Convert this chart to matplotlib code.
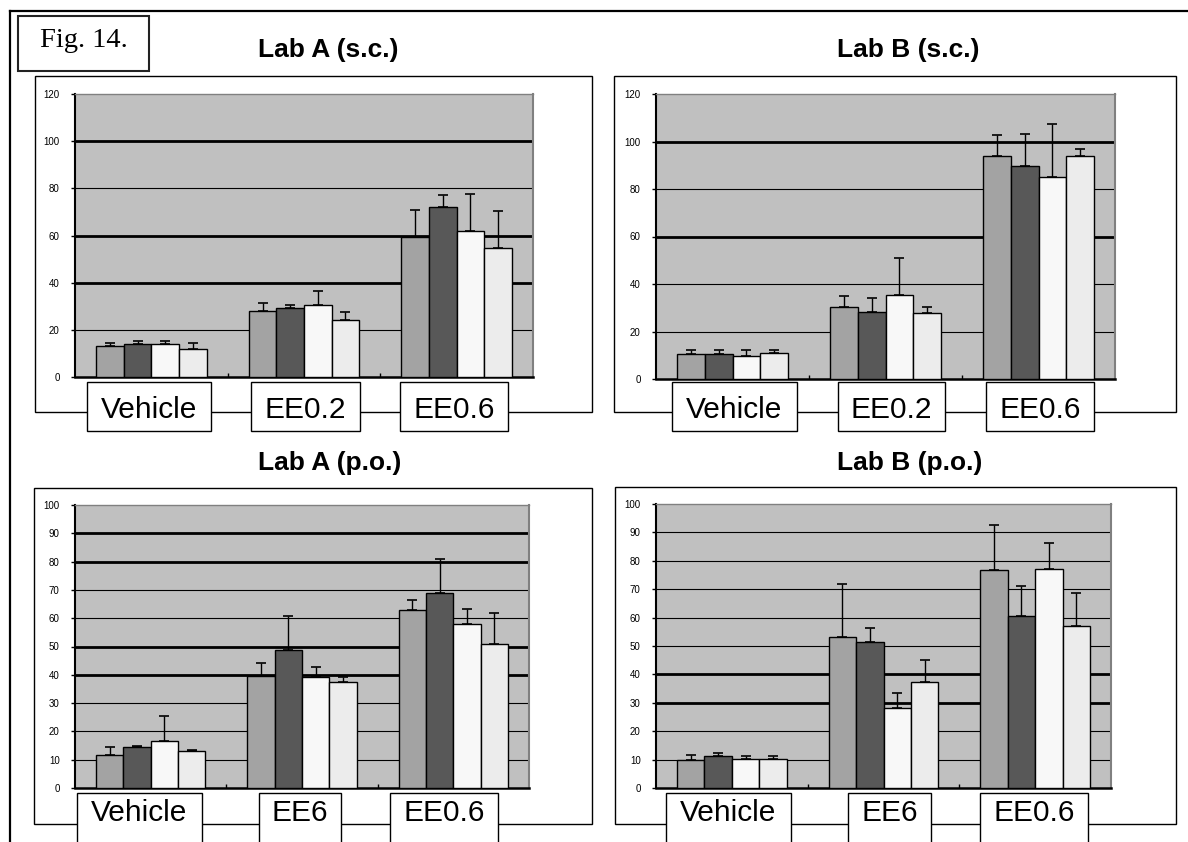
import matplotlib
matplotlib.use("Agg")
import matplotlib.pyplot as plt
from matplotlib.patches import Rectangle
from matplotlib.lines import Line2D
import numpy as np

W, H = 1188, 842
fig = plt.figure(figsize=(W / 100, H / 100), dpi=100)

# ---------------- data ----------------
categories_sc = ["Vehicle", "EE0.2", "EE0.6"]
categories_po = ["Vehicle", "EE6", "EE0.6"]

# one row per series (4 series), one value per category
lab_a_sc_mean = [[13.0, 28.0, 59.5], [14.0, 29.1, 72.1], [14.0, 30.4, 61.9], [11.9, 24.3, 54.7]]
lab_a_sc_sd = [[1.4, 3.4, 11.5], [1.1, 1.3, 4.9], [1.1, 5.9, 15.8], [2.5, 3.3, 15.7]]

lab_b_sc_mean = [[10.4, 30.2, 93.9], [10.4, 28.2, 89.8], [9.7, 35.3, 84.9], [10.8, 27.7, 93.9]]
lab_b_sc_sd = [[1.7, 4.6, 8.8], [1.7, 5.8, 13.3], [2.4, 15.6, 22.4], [1.3, 2.5, 2.9]]

lab_a_po_mean = [[11.6, 39.4, 62.8], [14.5, 48.7, 68.8], [16.7, 39.2, 57.9], [13.1, 37.5, 50.9]]
lab_a_po_sd = [[2.8, 4.6, 3.8], [0.2, 12.2, 12.0], [8.6, 3.6, 5.2], [0.2, 1.8, 10.9]]

lab_b_po_mean = [[9.8, 53.0, 76.6], [11.3, 51.3, 60.6], [10.1, 28.3, 77.1], [10.1, 37.4, 57.2]]
lab_b_po_sd = [[1.7, 19.0, 16.0], [1.2, 4.9, 10.4], [1.0, 5.0, 9.2], [1.0, 7.6, 11.3]]

series_colors = ["#a3a3a3", "#585858", "#f8f8f8", "#ececec"]
plot_bg = "#c0c0c0"

# ---------------- layout (pixel boxes) ----------------
panels = [
    dict(title="Lab A (s.c.)", cats=categories_sc, mean=lab_a_sc_mean, sd=lab_a_sc_sd,
         ymax=120, step=20, thick={40, 60, 100},
         frame=(35, 76, 592, 412), plot=(75, 94, 533, 377), tpos=(328, 57),
         boxes=[(87, 211), (251, 360), (400, 508)], boxy=(382, 431), base=418),
    dict(title="Lab B (s.c.)", cats=categories_sc, mean=lab_b_sc_mean, sd=lab_b_sc_sd,
         ymax=120, step=20, thick={60, 100},
         frame=(614, 76, 1176, 412), plot=(656, 94, 1115, 379), tpos=(908, 57),
         boxes=[(672, 797), (838, 945), (986, 1094)], boxy=(382, 431), base=418),
    dict(title="Lab A (p.o.)", cats=categories_po, mean=lab_a_po_mean, sd=lab_a_po_sd,
         ymax=100, step=10, thick={40, 50, 80, 90},
         frame=(34, 488, 592, 824), plot=(75, 505, 529, 788), tpos=(330, 470),
         boxes=[(77, 202), (259, 341), (390, 498)], boxy=(793, 846), base=821),
    dict(title="Lab B (p.o.)", cats=categories_po, mean=lab_b_po_mean, sd=lab_b_po_sd,
         ymax=100, step=10, thick={30, 40},
         frame=(615, 487, 1176, 824), plot=(656, 504, 1111, 788), tpos=(910, 470),
         boxes=[(666, 791), (848, 931), (980, 1088)], boxy=(793, 846), base=821),
]


def fig_rect(x0, y0, x1, y1):
    return (x0 / W, 1 - y1 / H, (x1 - x0) / W, (y1 - y0) / H)


SANS = "Liberation Sans"

# outer figure border (top and left)
fig.add_artist(Line2D([10 / W, 1.0], [1 - 11 / H, 1 - 11 / H], transform=fig.transFigure,
                      color="black", lw=1.6))
fig.add_artist(Line2D([10 / W, 10 / W], [1 - 11 / H, 0.0], transform=fig.transFigure,
                      color="black", lw=1.6))

# figure number box
fx, fy, fw, fh = fig_rect(18, 16, 149, 71)
fig.add_artist(Rectangle((fx, fy), fw, fh, transform=fig.transFigure, fill=True,
                         facecolor="white", edgecolor="#222222", lw=1.5, zorder=5))
fig.text(fx + fw / 2, 1 - 47 / H, "Fig. 14.", ha="center", va="baseline",
         fontsize=20.5, family="Liberation Serif", zorder=6)

bar_w = 0.181
offsets = (np.arange(4) - 1.5) * bar_w

for p in panels:
    # chart frame
    x, y, w, h = fig_rect(*p["frame"])
    fig.add_artist(Rectangle((x, y), w, h, transform=fig.transFigure, fill=False,
                             edgecolor="black", lw=1.0, zorder=1))
    # title
    fig.text(p["tpos"][0] / W, 1 - p["tpos"][1] / H, p["title"], ha="center", va="baseline",
             fontsize=19, fontweight="bold", family=SANS)

    ax = fig.add_axes(fig_rect(*p["plot"]))
    ax.set_facecolor(plot_bg)
    xs = np.arange(len(p["cats"]))
    for i in range(4):
        ax.bar(xs + offsets[i], p["mean"][i], width=bar_w, color=series_colors[i],
               edgecolor="black", linewidth=1.0, zorder=3)
        ax.errorbar(xs + offsets[i], p["mean"][i],
                    yerr=[np.zeros(len(xs)), p["sd"][i]], fmt="none",
                    ecolor="black", elinewidth=1.0, capsize=3.5, capthick=1.2, zorder=4)

    for v in range(p["step"], p["ymax"], p["step"]):
        ax.axhline(v, color="black", lw=2.0 if v in p["thick"] else 0.8, zorder=1)

    ax.set_xlim(-0.5, len(xs) - 0.5)
    ax.set_ylim(0, p["ymax"])
    ax.set_yticks(range(0, p["ymax"] + 1, p["step"]))
    ax.set_xticks([])
    ax.set_xticks(xs[:-1] + 0.5, minor=True)
    ax.tick_params(axis="x", which="minor", direction="in", length=3, width=1, color="black")
    ax.tick_params(axis="y", length=3, width=1, labelsize=7, pad=8)
    for lab in ax.get_yticklabels():
        lab.set_family(SANS)
    ax.spines["left"].set_color("black")
    ax.spines["bottom"].set_color("black")
    ax.spines["left"].set_linewidth(1.5)
    ax.spines["bottom"].set_linewidth(1.8)
    ax.spines["top"].set_color("#808080")
    ax.spines["right"].set_color("#808080")
    ax.spines["top"].set_linewidth(1.0)
    ax.spines["right"].set_linewidth(1.5)

    # category label boxes
    by0, by1 = p["boxy"]
    for (bx0, bx1), cat in zip(p["boxes"], p["cats"]):
        rx, ry, rw, rh = fig_rect(bx0, by0, bx1, by1)
        fig.add_artist(Rectangle((rx, ry), rw, rh, transform=fig.transFigure,
                                 facecolor="white", edgecolor="black", lw=1.0, zorder=5))
        fig.text(rx + rw / 2, 1 - p["base"] / H, cat, ha="center", va="baseline",
                 fontsize=21.5, family=SANS, zorder=6)

fig.savefig("out.png", dpi=100, facecolor="white")
